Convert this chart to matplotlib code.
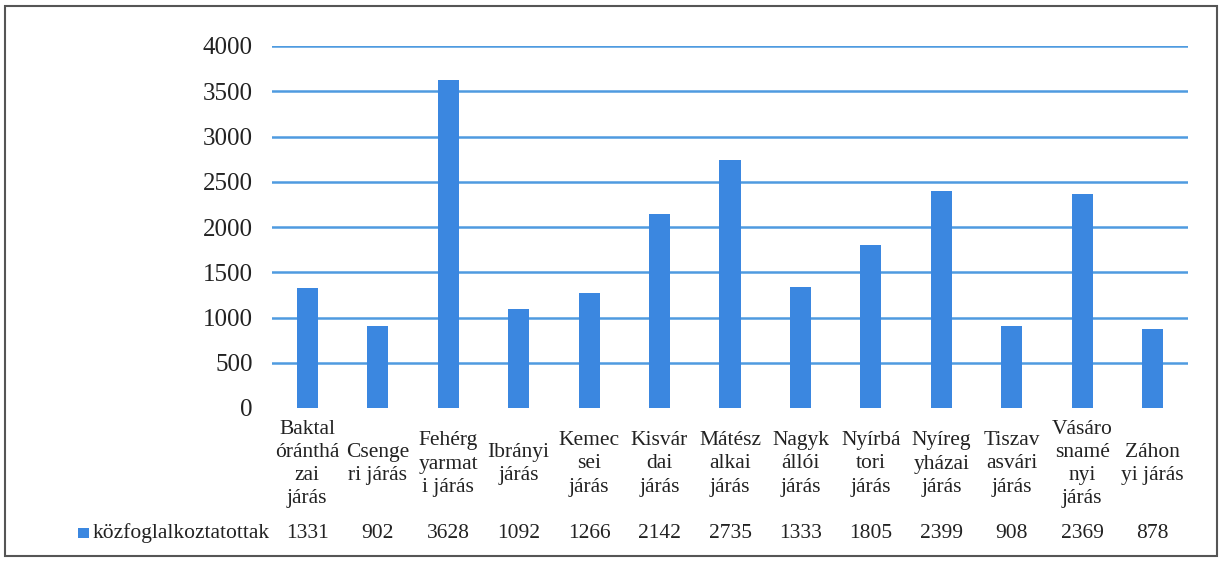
import matplotlib
matplotlib.use("Agg")
import matplotlib.pyplot as plt
from matplotlib.patches import Rectangle
from matplotlib.transforms import blended_transform_factory

categories = ["Baktal\nóránthá\nzai\njárás", "Csenge\nri járás", "Fehérg\nyarmat\ni járás",
              "Ibrányi\njárás", "Kemec\nsei\njárás", "Kisvár\ndai\njárás", "Mátész\nalkai\njárás",
              "Nagyk\nállói\njárás", "Nyírbá\ntori\njárás", "Nyíreg\nyházai\njárás",
              "Tiszav\nasvári\njárás", "Vásáro\nsnamé\nnyi\njárás", "Záhon\nyi járás"]
values = [1331, 902, 3628, 1092, 1266, 2142, 2735, 1333, 1805, 2399, 908, 2369, 878]
series_name = "közfoglalkoztatottak"
yticks = [0, 500, 1000, 1500, 2000, 2500, 3000, 3500, 4000]

BAR_C = "#3b87e0"
GRID_C = "#4f9be0"
TXT_C = "#222222"
W, H = 1222, 562

plt.rcParams["font.family"] = ["Liberation Serif", "DejaVu Serif"]
fig = plt.figure(figsize=(W / 100, H / 100), dpi=100)
fig.patches.append(Rectangle((5 / W, 6 / H), 1212 / W, 550 / H, transform=fig.transFigure,
                             fill=False, edgecolor="#555555", lw=1.5))

ax = fig.add_axes([272 / W, 1 - 408 / H, (1188 - 272) / W, (408 - 46) / H])
x = list(range(len(values)))
ax.bar(x, values, width=0.3, color=BAR_C, zorder=3)
ax.set_xlim(-0.5, len(values) - 0.5)
ax.set_ylim(0, 4000)
ax.set_yticks(yticks)
ax.set_yticklabels([str(v) for v in yticks], fontsize=18, color=TXT_C)
ax.tick_params(axis="y", length=0, pad=14)
ax.set_xticks([])
for s in ax.spines.values():
    s.set_visible(False)
for t in yticks[1:]:
    ax.axhline(t, color=GRID_C, lw=1.8, zorder=1)

# category labels are centred vertically in the table header band
tr = blended_transform_factory(ax.transData, fig.transFigure)
for i, (c, v) in enumerate(zip(categories, values)):
    ax.text(i, 1 - 464 / H, c, transform=tr, ha="center", va="center", fontsize=15.5,
            linespacing=1.3, color=TXT_C)
    ax.text(i, 1 - 533 / H, str(v), transform=tr, ha="center", va="center", fontsize=15.5,
            color=TXT_C)

fig.patches.append(Rectangle((78 / W, 1 - 538 / H), 11 / W, 10 / H, transform=fig.transFigure,
                             facecolor=BAR_C, edgecolor="none"))
fig.text(93 / W, 1 - 533 / H, series_name, ha="left", va="center", fontsize=15.5,
         color=TXT_C)

fig.savefig("out.png", dpi=100)
